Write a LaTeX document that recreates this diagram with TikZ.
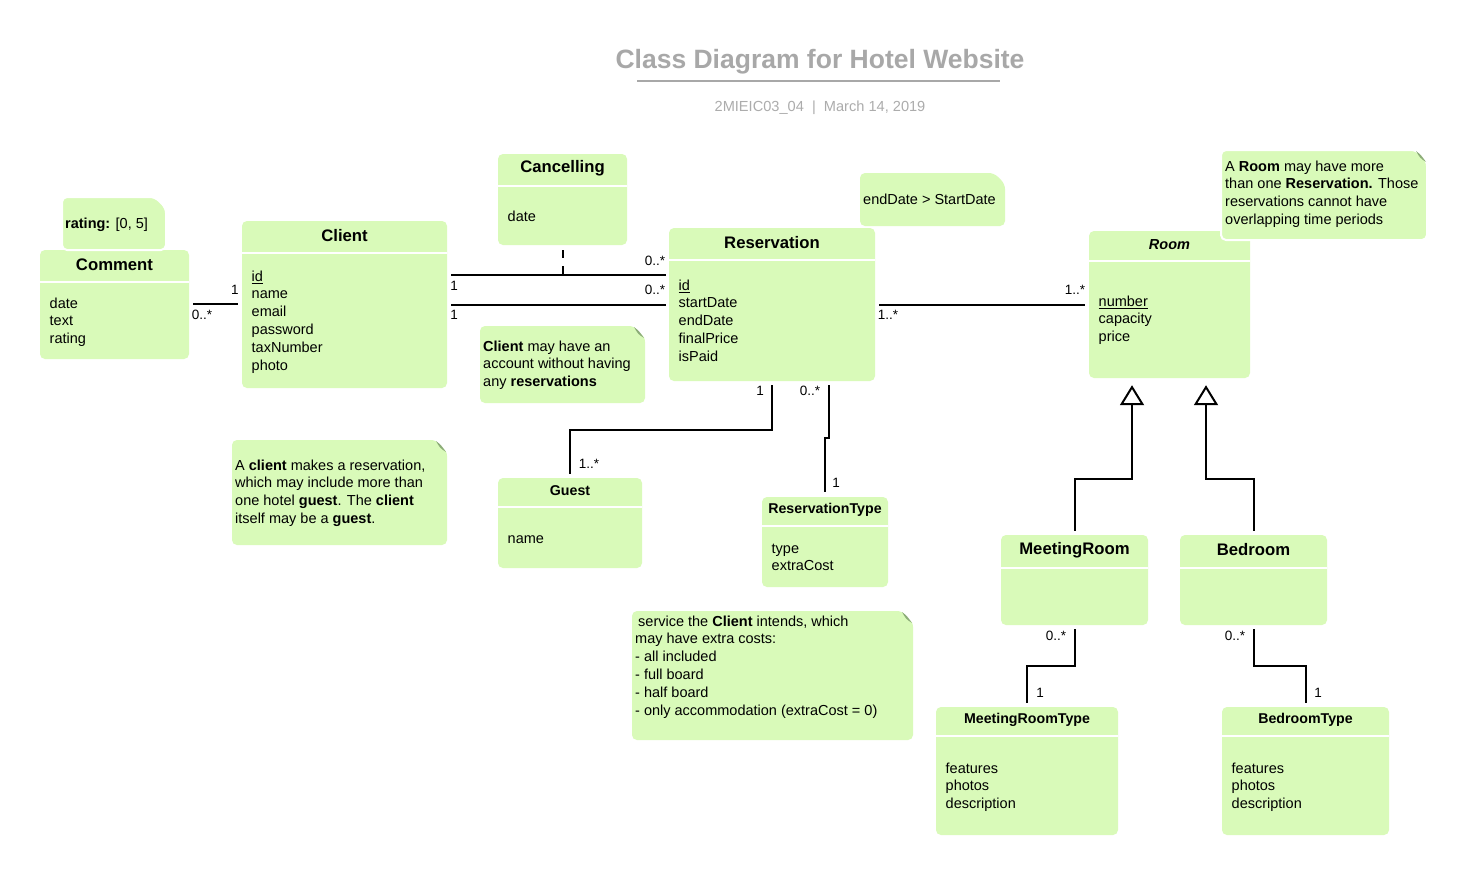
\documentclass[tikz,border=0pt]{standalone}
\usepackage{fontspec}
\setmainfont{Liberation Sans}
\usetikzlibrary{arrows.meta}
\definecolor{umlgreen}{RGB}{217,250,185}
\definecolor{foldgreen}{RGB}{140,172,120}
\definecolor{titlegray}{RGB}{168,168,168}
\definecolor{subgray}{RGB}{172,172,172}
\newcommand{\clsbig}{\fontsize{16.7}{20}\selectfont\bfseries}
\newcommand{\clssmall}{\fontsize{14.2}{17}\selectfont\bfseries}
\tikzset{
  classbox/.style={fill=umlgreen, rounded corners=5pt, inner sep=0pt, draw=none},
  bodytext/.style={anchor=north west, inner sep=0pt, align=left, font=\fontsize{14.5}{17.8}\selectfont},
  assoc/.style={line width=2pt, line cap=butt, line join=miter},
  gen/.style={assoc, -{Triangle[open, length=20pt, width=24pt, line width=2pt]}},
  mult/.style={font=\fontsize{13.5}{15}\selectfont, inner sep=0pt},
  notebg/.style={fill=umlgreen, rounded corners=5pt},
}
% #1 name #2 x #3 y #4 w #5 h #6 header height #7 title #8 first body line y #9 body
\newcommand{\umlclass}[9]{%
  \node[classbox, minimum width=#4pt, minimum height=#5pt] (#1) at ({#2+#4/2},{#3+#5/2}) {};
  \draw[white, line width=2.5pt] (#2,#3+#6+1) -- (#2+#4,#3+#6+1);
  \node[inner sep=0pt] (#1-title) at ({#2+#4/2},{#3+#6/2-1}) {#7};
  \node[bodytext] (#1-body) at (#2+9.5,#8-7.5) {\strut #9};
}
\newcommand{\notebg}[5][]{%
  \path[notebg,#1] (#2,#3) -- (#4-11,#3) -- (#4,#3+11) -- (#4,#5) -- (#2,#5) -- cycle;
}
\newcommand{\notecurl}[2]{%
  \fill[white] (#1-12,#2) -- (#1+1,#2) -- (#1+1,#2+13) -- cycle;
  \fill[foldgreen] (#1-11,#2+1) .. controls (#1-7,#2+8) .. (#1-1,#2+12) .. controls (#1-6,#2+5) .. cycle;
}
\begin{document}
\begin{tikzpicture}[x=1pt,y=-1pt]
\useasboundingbox (0,0) rectangle (1468,876);
\fill[white] (0,0) rectangle (1468,876);

% title
\node[font=\fontsize{26.5}{30}\selectfont\bfseries, text=titlegray, inner sep=0pt] (title) at (820,62) {Class Diagram for Hotel Website};
\draw[titlegray, line width=2pt] (637,81) -- (1000,81);
\node[font=\fontsize{14.6}{17}\selectfont, text=subgray, inner sep=0pt] (subtitle) at (820,108) {2MIEIC03\_04\ \ |\ \ March 14, 2019};

% classes
\umlclass{comment}{40}{250}{149}{109}{31}{\clsbig Comment}{303}{date\\text\\rating}
\umlclass{client}{242}{221}{205}{167}{31}{\clsbig Client}{276}{\underline{id}\\name\\email\\password\\taxNumber\\photo}
\umlclass{cancelling}{498}{154}{129}{91}{31}{\clsbig Cancelling}{216}{date}
\umlclass{reservation}{669}{228}{206}{153}{31}{\clsbig Reservation}{285}{\underline{id}\\startDate\\endDate\\finalPrice\\isPaid}
\umlclass{room}{1089}{231}{161}{147}{29}{\fontsize{14.5}{17}\selectfont\bfseries\itshape Room}{301}{\underline{number}\\capacity\\price}
\umlclass{guest}{498}{478}{144}{90}{28}{\clssmall Guest}{538}{name}
\umlclass{restype}{762}{497}{126}{90}{28}{\clssmall ReservationType}{548}{type\\extraCost}
\umlclass{meetingroom}{1001}{535}{147}{90}{32}{\clsbig MeetingRoom}{600}{}
\umlclass{bedroom}{1180}{535}{147}{90}{32}{\clsbig Bedroom}{600}{}
\umlclass{mrtype}{936}{707}{182}{128}{28}{\clssmall MeetingRoomType}{768}{features\\photos\\description}
\umlclass{brtype}{1222}{707}{167}{128}{28}{\clssmall BedroomType}{768}{features\\photos\\description}

% notes
\notebg[draw=white, line width=2pt]{62}{197}{166}{250}
\node[bodytext] (ratingnote) at (65,223-7.5) {\strut\textbf{rating:} [0, 5]};

\notebg{860}{173}{1005}{226}
\node[bodytext] (datenote) at (863,199-7.5) {\strut endDate > StartDate};

\notebg[draw=white, line width=2pt]{1221}{150}{1427}{240}
\notecurl{1427}{150}
\node[bodytext] (roomnote) at (1225,166-7.5) {\strut A \textbf{Room} may have more\\than one \textbf{Reservation.} Those\\reservations cannot have\\overlapping time periods};

\notebg{480}{326}{645}{403}
\notecurl{645}{326}
\node[bodytext] (accountnote) at (483,346-7.5) {\strut\textbf{Client} may have an\\account without having\\any \textbf{reservations}};

\notebg{232}{440}{447}{545}
\notecurl{447}{440}
\node[bodytext] (clientnote) at (235,465-7.5) {\strut A \textbf{client} makes a reservation,\\which may include more than\\one hotel \textbf{guest}. The \textbf{client}\\itself may be a \textbf{guest}.};

\notebg{632}{611}{913}{740}
\notecurl{913}{611}
\node[bodytext] (servicenote) at (635,621-7.5) {\strut\hspace{3pt}service the \textbf{Client} intends, which\\may have extra costs:\\- all included\\- full board\\- half board\\- only accommodation (extraCost = 0)};

% connectors
\draw[assoc, shorten <=4pt, shorten >=4pt] (comment.east |- 0,304) -- (client.west |- 0,304);
\node[mult] (m1) at (235,290) {1};
\node[mult] (m2) at (202,315) {0..*};

\draw[assoc, shorten <=4pt, shorten >=3pt] (client.east |- 0,275) -- (reservation.west |- 0,275);
\draw[assoc, dash pattern=on 8pt off 8pt, shorten <=5pt] (cancelling.south) -- (cancelling.south |- 0,275);
\node[mult] (m3) at (454,286) {1};
\node[mult] (m4) at (655,261) {0..*};

\draw[assoc, shorten <=4pt, shorten >=3pt] (client.east |- 0,305) -- (reservation.west |- 0,305);
\node[mult] (m5) at (454,315) {1};
\node[mult] (m6) at (655,290) {0..*};

\draw[assoc, shorten <=4pt, shorten >=4pt] (reservation.east |- 0,305) -- (room.west |- 0,305);
\node[mult] (m7) at (888,315) {1..*};
\node[mult] (m8) at (1075,290) {1..*};

\draw[assoc, shorten <=4pt, shorten >=4pt] (reservation.south) -- (reservation.south |- 0,430) -| (guest.north);
\node[mult] (m9) at (760,391) {1};
\node[mult] (m10) at (589,464) {1..*};

\draw[assoc, shorten <=4pt, shorten >=5pt] ([xshift=57pt]reservation.south) -- ++(0,57) -| (restype.north);
\node[mult] (m11) at (810,391) {0..*};
\node[mult] (m12) at (836,483) {1};

\draw[gen, shorten <=4pt] (meetingroom.north) -- ++(0,-56) -| ([shift={(-37.5pt,-7pt)}]room.south);
\draw[gen, shorten <=4pt] (bedroom.north) -- ++(0,-56) -| ([shift={(36.5pt,-7pt)}]room.south);

\draw[assoc, shorten <=4pt, shorten >=4pt] (meetingroom.south) -- ++(0,41) -| (mrtype.north);
\node[mult] (m13) at (1056,636) {0..*};
\node[mult] (m14) at (1040,693) {1};

\draw[assoc, shorten <=4pt, shorten >=4pt] (bedroom.south) -- ++(0,41) -| (brtype.north);
\node[mult] (m15) at (1235,636) {0..*};
\node[mult] (m16) at (1318,693) {1};
\end{tikzpicture}
\end{document}
